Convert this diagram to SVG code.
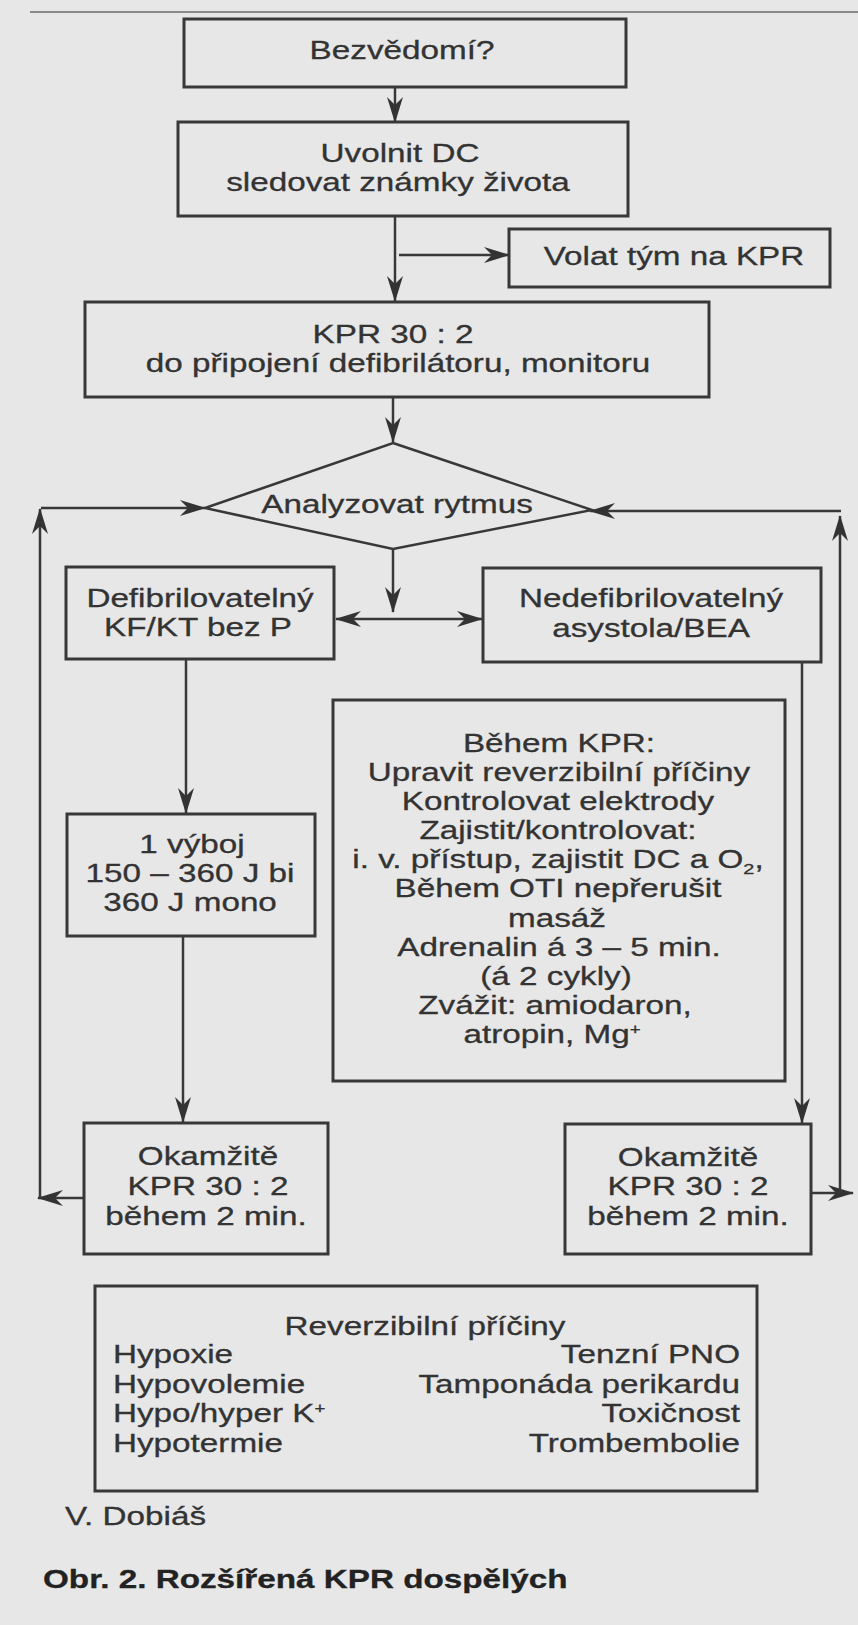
<svg xmlns="http://www.w3.org/2000/svg" width="858" height="1625" viewBox="0 0 858 1625">
<defs>
<style>
.bx{fill:none;stroke:#383838;stroke-width:3}
.ln{fill:none;stroke:#383838;stroke-width:2.5}
.t{font-family:"Liberation Sans",Arial,sans-serif;font-size:25px;fill:#333;stroke:#333;stroke-width:0.3;text-anchor:middle}
.s{text-anchor:start}
.e{text-anchor:end}
.b{font-weight:bold;fill:#222;stroke:#222}
.ar{marker-end:url(#ah)}
</style>
<marker id="ah" viewBox="0 0 26 18" refX="25" refY="9" markerWidth="26" markerHeight="18" markerUnits="userSpaceOnUse" orient="auto-start-reverse">
<path d="M0,1 L26,9 L0,17 L8,9 Z" fill="#333"/>
</marker>
</defs>
<rect x="0" y="0" width="858" height="1625" fill="#e7e7e7"/>
<line x1="30" y1="12" x2="858" y2="12" stroke="#8a8a8a" stroke-width="2"/>

<g id="connectors">
<path class="ln ar" d="M395,87 V122"/>
<path class="ln ar" d="M395,216 V301"/>
<path class="ln ar" d="M399,255 H509"/>
<path class="ln ar" d="M393,397 V442"/>
<path class="ln ar" d="M393,549 V612"/>
<path class="ln" d="M336,619 H482" marker-start="url(#ah)" marker-end="url(#ah)"/>
<path class="ln ar" d="M186,659 V813"/>
<path class="ln ar" d="M183,936 V1122"/>
<path class="ln ar" d="M802,662 V1123"/>
<path class="ln ar" d="M84,1198 H38"/>
<path class="ln ar" d="M40,1198 V509"/>
<path class="ln ar" d="M41,508 H205"/>
<path class="ln ar" d="M811,1193 H853"/>
<path class="ln ar" d="M840,1193 V516"/>
<path class="ln ar" d="M841,511 H590"/>
</g>

<g id="n-bezvedomi">
<rect class="bx" x="184" y="19" width="442" height="68"/>
<text class="t" transform="matrix(1.33 0 0 1 402 59)">Bezvědomí?</text>
</g>

<g id="n-uvolnit">
<rect class="bx" x="178" y="122" width="450" height="94"/>
<text class="t" transform="matrix(1.33 0 0 1 400 162)">Uvolnit DC</text>
<text class="t" transform="matrix(1.33 0 0 1 398 191)">sledovat známky života</text>
</g>

<g id="n-volat">
<rect class="bx" x="509" y="229" width="321" height="58"/>
<text class="t" transform="matrix(1.33 0 0 1 674 265)">Volat tým na KPR</text>
</g>

<g id="n-kpr">
<rect class="bx" x="85" y="302" width="624" height="95"/>
<text class="t" transform="matrix(1.33 0 0 1 393 343)">KPR 30 : 2</text>
<text class="t" transform="matrix(1.33 0 0 1 398 372)">do připojení defibrilátoru, monitoru</text>
</g>

<g id="n-analyzovat">
<polygon class="ln" points="393,443 592,510 393,549 205,508"/>
<text class="t" transform="matrix(1.33 0 0 1 397 513)">Analyzovat rytmus</text>
</g>

<g id="n-defib">
<rect class="bx" x="66" y="567" width="268" height="92"/>
<text class="t" transform="matrix(1.33 0 0 1 200 607)">Defibrilovatelný</text>
<text class="t" transform="matrix(1.33 0 0 1 198 636)">KF/KT bez P</text>
</g>

<g id="n-nedefib">
<rect class="bx" x="483" y="568" width="338" height="94"/>
<text class="t" transform="matrix(1.33 0 0 1 651 607)">Nedefibrilovatelný</text>
<text class="t" transform="matrix(1.33 0 0 1 651 637)">asystola/BEA</text>
</g>

<g id="n-behem">
<rect class="bx" x="333" y="700" width="452" height="381"/>
<text class="t" transform="matrix(1.33 0 0 1 559 752)">Během KPR:</text>
<text class="t" transform="matrix(1.33 0 0 1 559 781)">Upravit reverzibilní příčiny</text>
<text class="t" transform="matrix(1.33 0 0 1 558 810)">Kontrolovat elektrody</text>
<text class="t" transform="matrix(1.33 0 0 1 558 839)">Zajistit/kontrolovat:</text>
<text class="t" transform="matrix(1.33 0 0 1 558 868)">i. v. přístup, zajistit DC a O<tspan font-size="15" dy="6">2</tspan><tspan dy="-6">,</tspan></text>
<text class="t" transform="matrix(1.33 0 0 1 558 897)">Během OTI nepřerušit</text>
<text class="t" transform="matrix(1.33 0 0 1 557 927)">masáž</text>
<text class="t" transform="matrix(1.33 0 0 1 559 956)">Adrenalin á 3 – 5 min.</text>
<text class="t" transform="matrix(1.33 0 0 1 556 985)">(á 2 cykly)</text>
<text class="t" transform="matrix(1.33 0 0 1 555 1014)">Zvážit: amiodaron,</text>
<text class="t" transform="matrix(1.33 0 0 1 552 1043)">atropin, Mg<tspan font-size="14" dy="-9">+</tspan></text>
</g>

<g id="n-vyboj">
<rect class="bx" x="67" y="814" width="248" height="122"/>
<text class="t" transform="matrix(1.33 0 0 1 192 853)">1 výboj</text>
<text class="t" transform="matrix(1.33 0 0 1 190 882)">150 – 360 J bi</text>
<text class="t" transform="matrix(1.33 0 0 1 190 911)">360 J mono</text>
</g>

<g id="n-okamzite-l">
<rect class="bx" x="84" y="1123" width="244" height="131"/>
<text class="t" transform="matrix(1.33 0 0 1 208 1165)">Okamžitě</text>
<text class="t" transform="matrix(1.33 0 0 1 208 1195)">KPR 30 : 2</text>
<text class="t" transform="matrix(1.33 0 0 1 206 1225)">během 2 min.</text>
</g>

<g id="n-okamzite-r">
<rect class="bx" x="565" y="1124" width="246" height="130"/>
<text class="t" transform="matrix(1.33 0 0 1 688 1166)">Okamžitě</text>
<text class="t" transform="matrix(1.33 0 0 1 688 1195)">KPR 30 : 2</text>
<text class="t" transform="matrix(1.33 0 0 1 688 1225)">během 2 min.</text>
</g>

<g id="n-reverzibilni">
<rect class="bx" x="95" y="1286" width="662" height="205"/>
<text class="t" transform="matrix(1.33 0 0 1 425 1335)">Reverzibilní příčiny</text>
<text class="t s" transform="matrix(1.33 0 0 1 113 1363)">Hypoxie</text>
<text class="t s" transform="matrix(1.33 0 0 1 113 1393)">Hypovolemie</text>
<text class="t s" transform="matrix(1.33 0 0 1 113 1422)">Hypo/hyper K<tspan font-size="14" dy="-9">+</tspan></text>
<text class="t s" transform="matrix(1.33 0 0 1 113 1452)">Hypotermie</text>
<text class="t e" transform="matrix(1.33 0 0 1 740 1363)">Tenzní PNO</text>
<text class="t e" transform="matrix(1.33 0 0 1 740 1393)">Tamponáda perikardu</text>
<text class="t e" transform="matrix(1.33 0 0 1 740 1422)">Toxičnost</text>
<text class="t e" transform="matrix(1.33 0 0 1 740 1452)">Trombembolie</text>
</g>

<g id="credits">
<text class="t s" transform="matrix(1.33 0 0 1 65 1525)">V. Dobiáš</text>
<text class="t s b" transform="matrix(1.33 0 0 1 43 1588)">Obr. 2. Rozšířená KPR dospělých</text>
</g>
</svg>
